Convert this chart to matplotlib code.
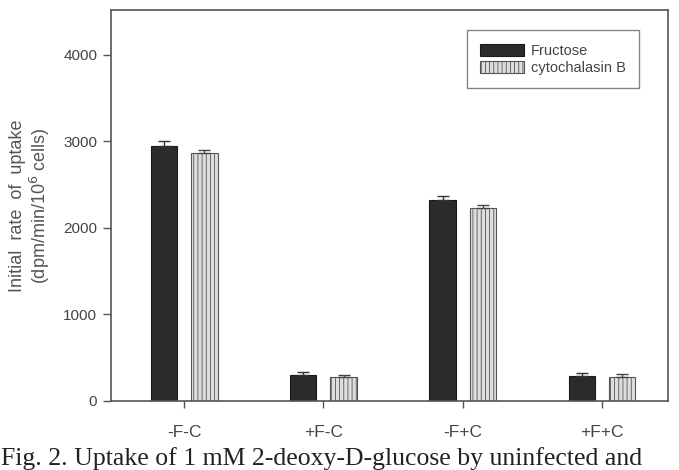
import matplotlib.pyplot as plt
import numpy as np

# Data
groups = ['-F-C', '+F-C', '-F+C', '+F+C']
fructose = [2950, 300, 2320, 290]
fructose_err = [50, 35, 50, 35]
cytochalasin = [2860, 275, 2230, 280]
cytochalasin_err = [45, 30, 40, 30]

plt.rcParams['font.family'] = ['Liberation Sans', 'DejaVu Sans']
plt.rcParams['hatch.color'] = '#bdbdbd'
plt.rcParams['hatch.linewidth'] = 0.6

fig = plt.figure(figsize=(6.79, 4.70), dpi=100)
ax = fig.add_axes([0.1635, 0.147, 0.8205, 0.832])

x = np.arange(len(groups))
w = 0.19
# only upper error bars, as in the original
ax.bar(x - 0.145, fructose, w, yerr=[np.zeros(len(groups)), fructose_err],
       color='#2b2b2b', edgecolor='#1a1a1a', linewidth=0.8, capsize=4,
       error_kw=dict(ecolor='#333333', elinewidth=1, capthick=1),
       label='Fructose')
ax.bar(x + 0.145, cytochalasin, w, yerr=[np.zeros(len(groups)), cytochalasin_err],
       color='#dedede', edgecolor='#555555', linewidth=0.8, hatch='||||', capsize=4,
       error_kw=dict(ecolor='#444444', elinewidth=1, capthick=1),
       label='cytochalasin B')

ax.set_xlim(-0.525, 3.475)
ax.set_ylim(0, 4520)
ax.set_yticks([0, 1000, 2000, 3000, 4000])
ax.set_xticks(x)
ax.set_xticklabels(groups)

for s in ax.spines.values():
    s.set_color('#555555')
    s.set_linewidth(1.2)

ax.tick_params(axis='y', direction='out', length=6, width=1, colors='#555555',
               labelcolor='#444444', labelsize=11, pad=4)
ax.tick_params(axis='x', direction='out', length=5, width=1, colors='#555555',
               labelcolor='#444444', labelsize=12.5, pad=12)

ax.set_ylabel('Initial  rate  of  uptake\n(dpm/min/10$^6$ cells)', fontsize=13,
              color='#555555', linespacing=1.1, labelpad=8)

leg = ax.legend(loc='upper right', bbox_to_anchor=(0.953, 0.955), fontsize=10.5,
                frameon=True, fancybox=False, handlelength=3.0, handleheight=0.9,
                borderpad=0.9, labelspacing=0.25, handletextpad=0.5,
                borderaxespad=0.2)
leg.get_frame().set_edgecolor('#666666')
leg.get_frame().set_linewidth(1.0)
for t in leg.get_texts():
    t.set_color('#444444')

fig.text(0.002, 0.0, 'Fig. 2. Uptake of 1 mM 2-deoxy-D-glucose by uninfected and',
         fontsize=18.5, family='Liberation Serif', color='#222222', va='bottom')

fig.savefig('out.png', dpi=100)
